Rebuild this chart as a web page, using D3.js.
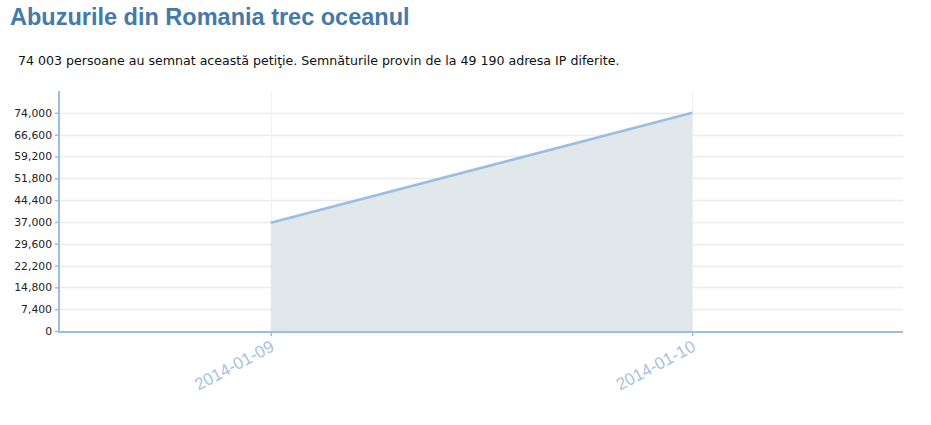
<!DOCTYPE html>
<html>
<head>
<meta charset="utf-8">
<script src="https://cdn.jsdelivr.net/npm/d3@7"></script>
<style>
  body { margin: 0; background: #fff; }
  h1 { font-family: "Liberation Sans", Arial, sans-serif; font-size: 23.5px; font-weight: bold;
       color: #4479aa; margin: 0; position: absolute; left: 10px; top: 4px; }
  p.info { font-family: "DejaVu Sans", Verdana, sans-serif; font-size: 12.6px; color: #111;
           margin: 0; position: absolute; left: 18px; top: 53px; }
  svg { position: absolute; left: 0; top: 0; }
</style>
</head>
<body>
<h1>Abuzurile din Romania trec oceanul</h1>
<p class="info">74 003 persoane au semnat această petiţie. Semnăturile provin de la 49 190 adresa IP diferite.</p>
<svg id="chart" width="931" height="425"></svg>
<script>
  var dates = ['2014-01-09', '2014-01-10'];
  var signatures = [36700, 74003];
  var yTicks = [0, 7400, 14800, 22200, 29600, 37000, 44400, 51800, 59200, 66600, 74000];

  (function () {
    var svg = d3.select('#chart'),
        plotLeft = 60, plotRight = 903, plotTop = 91, plotBottom = 331;

    var x = d3.scalePoint()
      .domain(dates)
      .range([plotLeft, plotRight])
      .padding(0.5);

    var y = d3.scaleLinear()
      .domain([0, 81400])
      .range([plotBottom, plotTop]);

    var data = dates.map(function (d, i) {
      return { date: d, value: signatures[i] };
    });

    // horizontal grid
    svg.append('g')
      .selectAll('line')
      .data(yTicks.slice(1))
      .enter()
      .append('line')
      .attr('x1', plotLeft)
      .attr('x2', plotRight)
      .attr('y1', function (d) { return Math.round(y(d)) + 0.5; })
      .attr('y2', function (d) { return Math.round(y(d)) + 0.5; })
      .attr('stroke', '#ececec')
      .attr('stroke-width', 1.5);

    // vertical grid
    svg.append('g')
      .selectAll('line')
      .data(dates)
      .enter()
      .append('line')
      .attr('x1', function (d) { return Math.round(x(d)) + 0.5; })
      .attr('x2', function (d) { return Math.round(x(d)) + 0.5; })
      .attr('y1', plotTop)
      .attr('y2', plotBottom)
      .attr('stroke', '#eef2f6')
      .attr('stroke-width', 1);

    var area = d3.area()
      .x(function (d) { return x(d.date); })
      .y0(plotBottom)
      .y1(function (d) { return y(d.value); });

    svg.append('path')
      .datum(data)
      .attr('d', area)
      .attr('fill', '#e0e8ec');

    var line = d3.line()
      .x(function (d) { return x(d.date); })
      .y(function (d) { return y(d.value); });

    svg.append('path')
      .datum(data)
      .attr('d', line)
      .attr('fill', 'none')
      .attr('stroke', '#9bbde0')
      .attr('stroke-width', 2.5);

    // y axis
    var yAxis = svg.append('g')
      .attr('transform', 'translate(' + (plotLeft - 1) + ',0)')
      .call(d3.axisLeft(y).tickValues(yTicks).tickSize(4).tickPadding(3)
        .tickFormat(d3.format(',')));
    yAxis.select('.domain').remove();
    yAxis.append('line')
      .attr('x1', 0).attr('x2', 0)
      .attr('y1', plotTop).attr('y2', plotBottom + 1)
      .attr('stroke', '#9bbde0')
      .attr('stroke-width', 2);
    yAxis.selectAll('.tick line').attr('stroke', '#9bbde0').attr('stroke-width', 1.5);
    yAxis.selectAll('.tick text')
      .attr('font-family', '"DejaVu Sans", Verdana, sans-serif')
      .attr('font-size', 10.8)
      .attr('fill', '#222');

    // x axis
    var xAxis = svg.append('g')
      .attr('transform', 'translate(0,' + (plotBottom + 1) + ')')
      .call(d3.axisBottom(x).tickSize(4).tickPadding(0));
    xAxis.select('.domain').remove();
    xAxis.append('line')
      .attr('x1', plotLeft - 2).attr('x2', plotRight)
      .attr('y1', 0).attr('y2', 0)
      .attr('stroke', '#9bbde0')
      .attr('stroke-width', 2);
    xAxis.selectAll('.tick line').attr('stroke', '#9bbde0').attr('stroke-width', 1.5);
    xAxis.selectAll('.tick text')
      .attr('font-family', '"Liberation Sans", Arial, sans-serif')
      .attr('font-size', 17)
      .attr('fill', '#a8c2de')
      .attr('text-anchor', 'end')
      .attr('y', 0)
      .attr('dy', 0)
      .attr('transform', 'translate(4,18) rotate(-28)');
  })();
</script>
</body>
</html>
